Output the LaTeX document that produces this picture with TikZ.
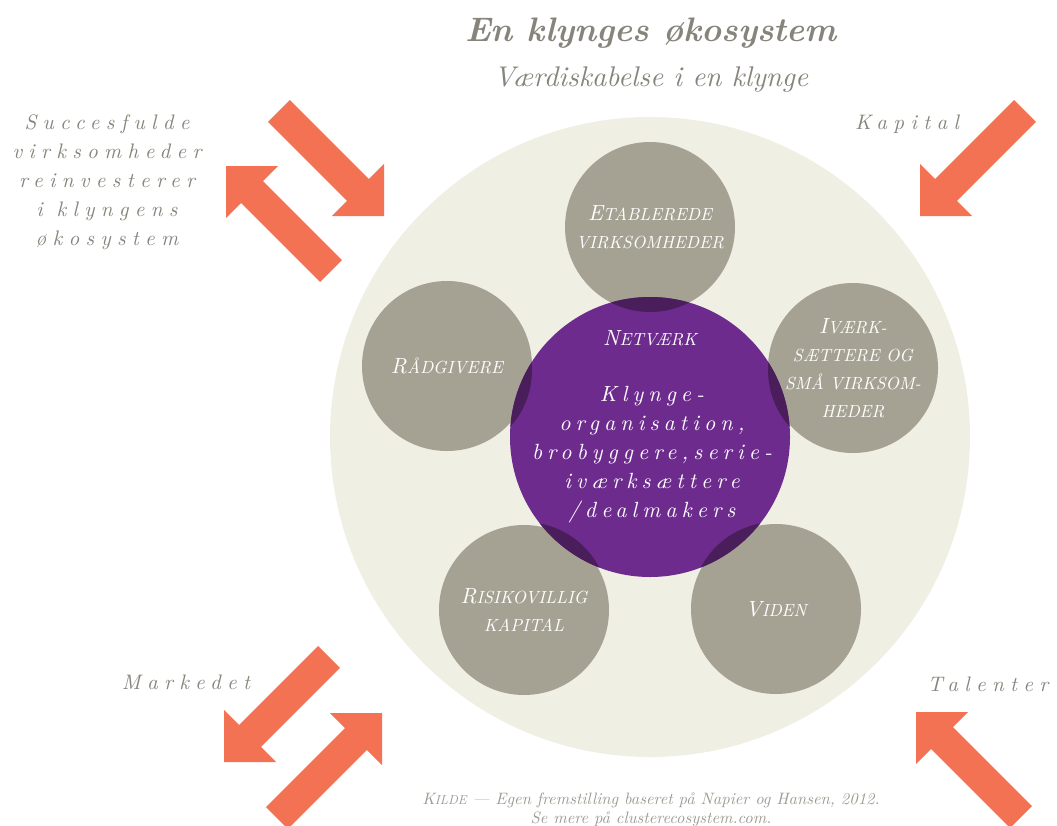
\documentclass[tikz,border=0pt]{standalone}
\usepackage{fontspec}
\setmainfont{lmroman10-regular.otf}[ItalicFont=lmroman10-italic.otf, BoldFont=lmroman10-bold.otf, BoldItalicFont=lmroman10-bolditalic.otf]
\newfontfamily\spredt{lmroman10-regular.otf}[ItalicFont=lmroman10-italic.otf, LetterSpace=30]
\newfontfamily\spredtlilla{lmroman10-regular.otf}[ItalicFont=lmroman10-italic.otf, LetterSpace=23]
\usepackage{tikz}
\usetikzlibrary{shapes, positioning}

\definecolor{pilorange}{HTML}{F37254}
\definecolor{creme}{HTML}{F0EFE4}
\definecolor{stengraa}{HTML}{A6A293}
\definecolor{lilla}{HTML}{6D2B8E}
\definecolor{morklilla}{HTML}{4A1D5B}
\definecolor{tekstgraa}{HTML}{86847B}
\definecolor{kildegraa}{HTML}{9C9A90}

% small caps made by hand: big first letter, small rest
\newcommand{\ksc}[2]{{\fontsize{22}{28}\selectfont #1}{\fontsize{17.5}{28}\selectfont #2}}

\tikzset{
  pics/pil/.style={code={
    \fill[pilorange] (0,0) -- (-36.8,36.8) -- (-36.8,15.5) -- (-148.5,15.5)
      -- (-148.5,-15.5) -- (-36.8,-15.5) -- (-36.8,-36.8) -- cycle;
  }},
  aktoer/.style={circle,fill=stengraa,minimum size=170pt,inner sep=0pt,
    text=white,align=center,font=\fontsize{17.5}{28}\selectfont\itshape},
  sidetekst/.style={text=tekstgraa,align=center,
    font=\fontsize{21}{29}\selectfont\spredt\itshape}
}

\begin{document}
\begin{tikzpicture}[x=1pt,y=1pt]
  \begin{scope}[yscale=-1]
    \useasboundingbox (0,0) rectangle (1057,825);
    \clip (0,0) rectangle (1057,825);

    % title
    \node[text=tekstgraa,font=\fontsize{34}{38}\selectfont\bfseries\itshape] (titel) at (651,33) {En klynges økosystem};
    \node[text=tekstgraa,font=\fontsize{28.5}{32}\selectfont\itshape] (undertitel) at (651,80) {Værdiskabelse i en klynge};

    % ecosystem
    \node[circle,fill=creme,minimum size=640pt] (oko) at (650,437) {};
    \begin{scope}[every node/.style={aktoer}]
      \node (etab) at (650,227) {\ksc{E}{TABLEREDE}\\\ksc{}{VIRKSOMHEDER}};
      \node (raad) at (447,366) {\ksc{R}{ÅDGIVERE}};
      \node (ivaerk) at (853,368) {\ksc{I}{VÆRK-}\\\ksc{}{SÆTTERE OG}\\\ksc{}{SMÅ VIRKSOM-}\\\ksc{}{HEDER}};
      \node (risiko) at (524,610) {\ksc{R}{ISIKOVILLIG}\\\ksc{}{KAPITAL}};
      \node (viden) at (776,609) {\ksc{V}{IDEN}};
    \end{scope}
    \node[circle,fill=lilla,minimum size=280pt] (netvaerk) at (650,437) {};
    \begin{scope}
      \clip (650,437) circle (140);
      \foreach \p in {(650,227),(447,370),(853,370),(524,607),(776,607)}
        \fill[morklilla] \p circle (85);
    \end{scope}
    \node[text=white,font=\fontsize{17.5}{28}\selectfont\itshape] (netnavn) at (650,338) {\ksc{N}{ETVÆRK}};
    \node[text=white,align=center,font=\fontsize{22}{29}\selectfont\spredtlilla\itshape] (klynge) at (652,455)
      {Klynge-\\organisation,\\brobyggere,serie-\\iværksættere\\/dealmakers};

    % arrows
    \pic[rotate=-45] at (384,216) {pil};
    \pic[rotate=135] at (226,166) {pil};
    \pic[rotate=-135] at (920,216) {pil};
    \pic[rotate=-135] at (224,762) {pil};
    \pic[rotate=45] at (382,713) {pil};
    \pic[rotate=135] at (916,712) {pil};

    \begin{scope}[every node/.style={sidetekst}]
      \node (reinvest) at (107,182) {Succesfulde\\virksomheder\\reinvesterer\\i klyngens\\økosystem};
      \node (kapital) at (907,124) {Kapital};
      \node (markedet) at (186,682) {Markedet};
      \node (talenter) at (988,684) {Talenter};
    \end{scope}

    % source
    \node[text=kildegraa,align=center,font=\fontsize{16.5}{19}\selectfont\itshape] (kilde) at (651,810)
      {{\fontsize{16.5}{19}\selectfont K}{\fontsize{13}{19}\selectfont ILDE} --- Egen fremstilling baseret på Napier og Hansen, 2012.\\Se mere på clusterecosystem.com.};
  \end{scope}
\end{tikzpicture}
\end{document}
